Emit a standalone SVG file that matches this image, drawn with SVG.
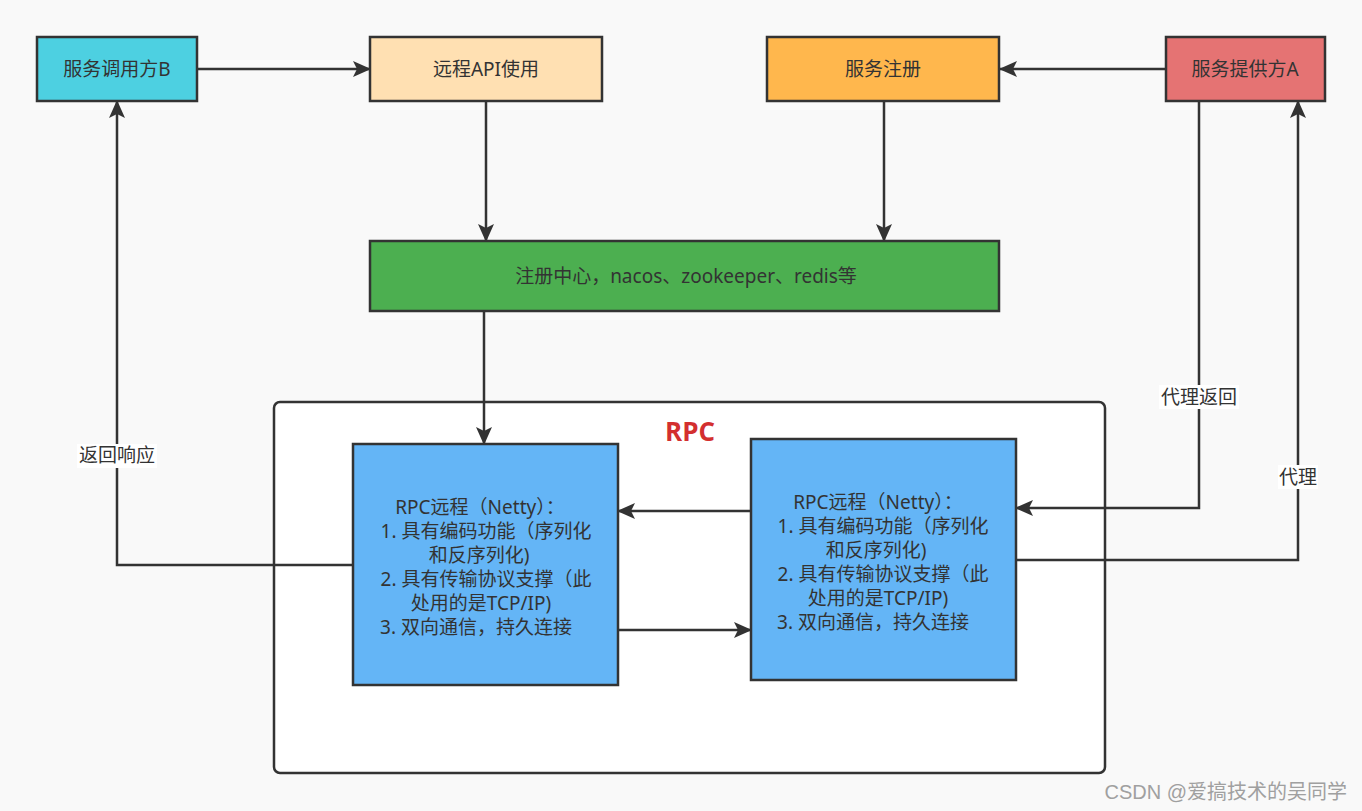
<svg xmlns="http://www.w3.org/2000/svg" width="1362" height="811" viewBox="0 0 1362 811">
<defs>
<marker id="arr" markerUnits="userSpaceOnUse" markerWidth="18" markerHeight="16" refX="17" refY="8" orient="auto">
<path d="M0,0 L18,8 L0,16 L4,8 Z" fill="#333333"/>
</marker>
<style>
.box{stroke:#333333;stroke-width:2.5}
.t{font-family:"Noto Sans","Noto Sans CJK SC",sans-serif;font-size:19px;fill:#333333;text-anchor:middle}
.c{fill:none;stroke:#333333;stroke-width:2.5}
.lbg{fill:#ffffff}
</style>
</defs>
<rect x="0" y="0" width="1362" height="811" fill="#f9f9f9"/>

<g id="rpc-container">
<rect x="274" y="402" width="831" height="371" rx="6" fill="#ffffff" stroke="#333333" stroke-width="2.5"/>
<text x="690" y="441" font-family="'Open Sans','Noto Sans CJK SC',sans-serif" font-size="26" font-weight="bold" fill="#d32f2f" text-anchor="middle">RPC</text>
</g>

<g id="connectors">
<path class="c" d="M197,69 L370,69" marker-end="url(#arr)"/>
<path class="c" d="M1166,69 L1000,69" marker-end="url(#arr)"/>
<path class="c" d="M486,101 L486,241" marker-end="url(#arr)"/>
<path class="c" d="M884,101 L884,241" marker-end="url(#arr)"/>
<path class="c" d="M484,311 L484,444" marker-end="url(#arr)"/>
<path class="c" d="M353,565 L117,565 L117,101" marker-end="url(#arr)"/>
<path class="c" d="M750,511 L618,511" marker-end="url(#arr)"/>
<path class="c" d="M618,630 L751,630" marker-end="url(#arr)"/>
<path class="c" d="M1199,101 L1199,508 L1016,508" marker-end="url(#arr)"/>
<path class="c" d="M1016,560 L1298,560 L1298,101" marker-end="url(#arr)"/>
<rect class="lbg" x="77" y="444" width="80" height="24"/>
<text class="t" x="117" y="462">返回响应</text>
<rect class="lbg" x="1159" y="385" width="80" height="24"/>
<text class="t" x="1199" y="404">代理返回</text>
<rect class="lbg" x="1278" y="465" width="40" height="24"/>
<text class="t" x="1298" y="484">代理</text>
</g>

<g id="node-caller-b">
<rect class="box" x="37" y="37" width="160" height="64" fill="#4dd0e1"/>
<text class="t" x="117" y="76">服务调用方B</text>
</g>
<g id="node-remote-api">
<rect class="box" x="370" y="37" width="232" height="64" fill="#ffe0b2"/>
<text class="t" x="486" y="76">远程API使用</text>
</g>
<g id="node-register">
<rect class="box" x="767" y="37" width="232" height="64" fill="#ffb74d"/>
<text class="t" x="883" y="76">服务注册</text>
</g>
<g id="node-provider-a">
<rect class="box" x="1166" y="37" width="159" height="64" fill="#e57373"/>
<text class="t" x="1245" y="76">服务提供方A</text>
</g>
<g id="node-registry">
<rect class="box" x="370" y="241" width="629" height="70" fill="#4caf50"/>
<text class="t" x="686" y="283">注册中心，nacos、zookeeper、redis等</text>
</g>
<g id="node-rpc-left">
<rect class="box" x="353" y="444" width="265" height="241" fill="#64b5f6"/>
<text class="t" x="480" y="514">RPC远程（Netty）：</text>
<text class="t" x="486" y="538">1. 具有编码功能（序列化</text>
<text class="t" x="479" y="562">和反序列化)</text>
<text class="t" x="486" y="586">2. 具有传输协议支撑（此</text>
<text class="t" x="481" y="610">处用的是TCP/IP)</text>
<text class="t" x="476" y="634">3. 双向通信，持久连接</text>
</g>
<g id="node-rpc-right">
<rect class="box" x="751" y="439" width="265" height="241" fill="#64b5f6"/>
<text class="t" x="878" y="509">RPC远程（Netty）：</text>
<text class="t" x="883" y="533">1. 具有编码功能（序列化</text>
<text class="t" x="876" y="557">和反序列化)</text>
<text class="t" x="883" y="581">2. 具有传输协议支撑（此</text>
<text class="t" x="878" y="605">处用的是TCP/IP)</text>
<text class="t" x="873" y="629">3. 双向通信，持久连接</text>
</g>

<text x="1347" y="799" font-family="'Liberation Sans','Noto Sans CJK SC',sans-serif" font-size="20" fill="#a0a0a0" text-anchor="end">CSDN @爱搞技术的吴同学</text>
</svg>
